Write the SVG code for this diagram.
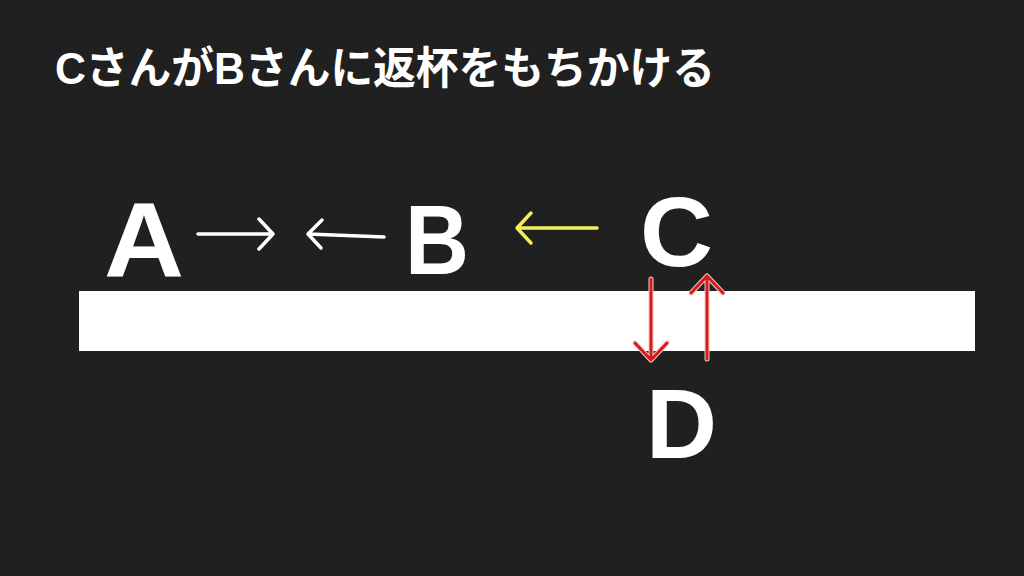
<svg xmlns="http://www.w3.org/2000/svg" width="1024" height="576" viewBox="0 0 1024 576">
<defs>
<style>
.bg{fill:#202020}
.title{font-family:"Liberation Sans","Noto Sans CJK JP",sans-serif;font-weight:bold;font-size:44px;fill:#ffffff}
.big{font-family:"Liberation Sans","Noto Sans",sans-serif;font-weight:bold;font-size:98px;fill:#ffffff}
.w{stroke:#ffffff;stroke-width:3.5;fill:none;stroke-linecap:round;stroke-linejoin:round}
.y{stroke:#f3ee5c;stroke-width:3.5;fill:none;stroke-linecap:round;stroke-linejoin:round}
.ro{stroke:#f4c8c8;stroke-width:5;fill:none;stroke-linecap:round;stroke-linejoin:round}
.r{stroke:#d41c1c;stroke-width:3;fill:none;stroke-linecap:round;stroke-linejoin:round}
</style>
</defs>
<rect class="bg" x="0" y="0" width="1024" height="576"/>
<text class="title" x="55" y="84" textLength="660" lengthAdjust="spacingAndGlyphs">CさんがBさんに返杯をもちかける</text>
<rect id="bar" x="79" y="291" width="896" height="60" fill="#ffffff"/>
<g id="A"><text class="big" x="104" y="277" style="font-size:106px" textLength="80" lengthAdjust="spacingAndGlyphs">A</text></g>
<g id="B"><text class="big" x="405" y="274" textLength="64" lengthAdjust="spacingAndGlyphs">B</text></g>
<g id="C"><text class="big" x="640" y="266" textLength="73" lengthAdjust="spacingAndGlyphs">C</text></g>
<g id="D"><text class="big" x="646" y="458" textLength="71" lengthAdjust="spacingAndGlyphs">D</text></g>
<g id="connectors">
<path class="w" d="M198 234 H273 M259 219 L273 234 L259 249"/>
<path class="w" d="M384 237 L308 234 M322 220 L308 234 L321 248"/>
<path class="y" d="M597 228 H517 M531 213 L517 228 L531 243"/>
<path class="ro" d="M651 279 V360 M635 343 L651 360 L667 343"/>
<path class="r" d="M651 279 V360 M635 343 L651 360 L667 343"/>
<path class="ro" d="M707 359 V276 M691 293 L707 276 L723 293"/>
<path class="r" d="M707 359 V276 M691 293 L707 276 L723 293"/>
</g>
</svg>
